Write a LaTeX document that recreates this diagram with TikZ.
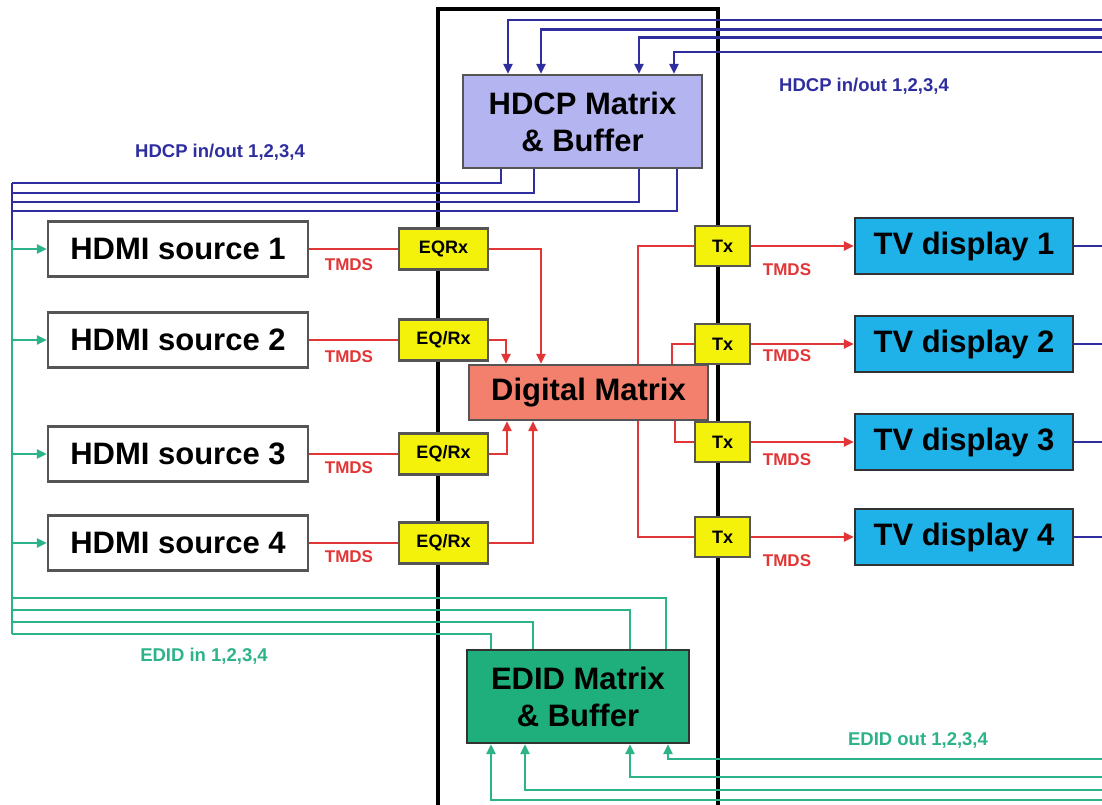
\documentclass[tikz,border=0pt]{standalone}
\usepackage{fontspec}
\setmainfont{Liberation Sans}
\usetikzlibrary{arrows.meta}
\definecolor{hdcpblue}{HTML}{2E2E9E}
\definecolor{edidgreen}{HTML}{2DB38A}
\definecolor{tmdsred}{HTML}{E23636}
\definecolor{lav}{HTML}{B4B4F0}
\definecolor{salmonfill}{HTML}{F2806C}
\definecolor{yel}{HTML}{F4F20A}
\definecolor{tvblue}{HTML}{1EB2E8}
\definecolor{edidfill}{HTML}{1EAF7C}
\definecolor{edge}{HTML}{555555}
\begin{document}
\begin{tikzpicture}[x=1pt,y=-1pt,
  bigbox/.style={line width=2.2pt, inner sep=0pt, align=center, text=black,
    font=\bfseries\fontsize{31}{37}\selectfont},
  srcbox/.style={bigbox, draw=edge, fill=white, minimum width=260pt, minimum height=55pt},
  tvbox/.style={bigbox, draw=black!80, fill=tvblue, minimum width=218pt, minimum height=56pt},
  hdcpbox/.style={bigbox, draw=edge, fill=lav, minimum width=239pt, minimum height=93pt},
  dmbox/.style={bigbox, draw=edge, fill=salmonfill, minimum width=239pt, minimum height=55pt},
  edidbox/.style={bigbox, draw=black!80, fill=edidfill, minimum width=222pt, minimum height=93pt},
  smallbox/.style={line width=2.2pt, inner sep=0pt, draw=edge, fill=yel, text=black,
    font=\bfseries\fontsize{18}{20}\selectfont},
  eqbox/.style={smallbox, minimum width=89pt, minimum height=41pt},
  txbox/.style={smallbox, minimum width=55pt, minimum height=40pt},
  arrowhd/.style={-{Triangle[length=10pt,width=9pt]}},
  tmds/.style={draw=tmdsred, line width=2.6pt},
  hdcpline/.style={draw=hdcpblue, line width=2.4pt},
  edidline/.style={draw=edidgreen, line width=2.8pt},
  framel/.style={draw=black, line width=3.5pt},
  tmdslbl/.style={text=tmdsred, font=\bfseries\fontsize{17}{19}\selectfont},
  hdcplbl/.style={text=hdcpblue, font=\bfseries\fontsize{18.5}{20}\selectfont},
  edidlbl/.style={text=edidgreen, font=\bfseries\fontsize{18.5}{20}\selectfont}]
\useasboundingbox[fill=white] (0,0) rectangle (1102,805);

% frame
\coordinate (f1) at (438,805);
\coordinate (f2) at (438,9);
\coordinate (f3) at (718,9);
\coordinate (f4) at (718,805);
\draw[framel] (f1) -- (f2) -- (f3) -- (f4);

% reference coordinates
\coordinate (rr) at (1102,0);
\coordinate (gl) at (12,0);

% nodes
\node[hdcpbox] (hdcp) at (582.5,121.5) {HDCP Matrix\\\& Buffer};
\node[dmbox] (dm) at (588.5,392.5) {Digital Matrix};
\node[edidbox] (edid) at (578,696.5) {EDID Matrix\\\& Buffer};

\node[srcbox] (src1) at (178,249) {HDMI source 1};
\node[srcbox] (src2) at (178,340) {HDMI source 2};
\node[srcbox] (src3) at (178,454) {HDMI source 3};
\node[srcbox] (src4) at (178,543) {HDMI source 4};

\node[eqbox] (eq1) at (443.5,249) {EQRx};
\node[eqbox] (eq2) at (443.5,340) {EQ/Rx};
\node[eqbox] (eq3) at (443.5,454) {EQ/Rx};
\node[eqbox] (eq4) at (443.5,543) {EQ/Rx};

\node[txbox] (tx1) at (722.5,246) {Tx};
\node[txbox] (tx2) at (722.5,344) {Tx};
\node[txbox] (tx3) at (722.5,442) {Tx};
\node[txbox] (tx4) at (722.5,537) {Tx};

\node[tvbox] (tv1) at (964,246) {TV display 1};
\node[tvbox] (tv2) at (964,344) {TV display 2};
\node[tvbox] (tv3) at (964,442) {TV display 3};
\node[tvbox] (tv4) at (964,537) {TV display 4};

% TMDS red
\draw[tmds] (src1.east) -- (eq1.west);
\draw[tmds] (src2.east) -- (eq2.west);
\draw[tmds] (src3.east) -- (eq3.west);
\draw[tmds] (src4.east) -- (eq4.west);
\draw[tmds,arrowhd] (eq1.east) -| ([xshift=-47.5pt]dm.north);
\draw[tmds,arrowhd] (eq2.east) -| ([xshift=-82.5pt]dm.north);
\draw[tmds,arrowhd] (eq3.east) -| ([xshift=-81.5pt]dm.south);
\draw[tmds,arrowhd] (eq4.east) -| ([xshift=-55.5pt]dm.south);
\draw[tmds] ([xshift=49.5pt]dm.north) |- (tx1.west);
\draw[tmds] ([xshift=83.5pt]dm.north) |- (tx2.west);
\draw[tmds] ([xshift=86.5pt]dm.south) |- (tx3.west);
\draw[tmds] ([xshift=49.5pt]dm.south) |- (tx4.west);
\draw[tmds,arrowhd] (tx1.east) -- (tv1.west);
\draw[tmds,arrowhd] (tx2.east) -- (tv2.west);
\draw[tmds,arrowhd] (tx3.east) -- (tv3.west);
\draw[tmds,arrowhd] (tx4.east) -- (tv4.west);

\node[tmdslbl] (tl1) at (349,265) {TMDS};
\node[tmdslbl] (tl2) at (349,357) {TMDS};
\node[tmdslbl] (tl3) at (349,468) {TMDS};
\node[tmdslbl] (tl4) at (349,557) {TMDS};
\node[tmdslbl] (tr1) at (787,270) {TMDS};
\node[tmdslbl] (tr2) at (787,356) {TMDS};
\node[tmdslbl] (tr3) at (787,460) {TMDS};
\node[tmdslbl] (tr4) at (787,561) {TMDS};

% HDCP blue: top inputs
\coordinate (bt1) at (1102,20);
\coordinate (bt2) at (1102,29.5);
\coordinate (bt3) at (1102,37.5);
\coordinate (bt4) at (1102,52);
\draw[hdcpline,arrowhd] (bt1) -| ([xshift=-74.5pt]hdcp.north);
\draw[hdcpline,arrowhd] (bt2) -| ([xshift=-41.5pt]hdcp.north);
\draw[hdcpline,arrowhd] (bt3) -| ([xshift=56.5pt]hdcp.north);
\draw[hdcpline,arrowhd] (bt4) -| ([xshift=91.5pt]hdcp.north);
% HDCP blue: bottom outputs to the left
\coordinate (bl1) at (12,183);
\coordinate (bl2) at (12,193);
\coordinate (bl3) at (12,202);
\coordinate (bl4) at (12,211);
\coordinate (blend) at (12,240);
\draw[hdcpline] ([xshift=-81.5pt]hdcp.south) |- (bl1);
\draw[hdcpline] ([xshift=-48.5pt]hdcp.south) |- (bl2);
\draw[hdcpline] ([xshift=56.5pt]hdcp.south) |- (bl3);
\draw[hdcpline] ([xshift=94.5pt]hdcp.south) |- (bl4);
\draw[hdcpline] (bl1) -- (blend);
% TV right side
\draw[hdcpline] (tv1.east) -- (tv1.east -| rr);
\draw[hdcpline] (tv2.east) -- (tv2.east -| rr);
\draw[hdcpline] (tv3.east) -- (tv3.east -| rr);
\draw[hdcpline] (tv4.east) -- (tv4.east -| rr);

\node[hdcplbl] (hl1) at (220,152) {HDCP in/out 1,2,3,4};
\node[hdcplbl] (hl2) at (864,86) {HDCP in/out 1,2,3,4};

% EDID green
\coordinate (el1) at (12,598);
\coordinate (el2) at (12,610);
\coordinate (el3) at (12,622);
\coordinate (el4) at (12,634);
\draw[edidline] (blend) -- (el4);
\draw[edidline,arrowhd] (src1.west -| gl) -- (src1.west);
\draw[edidline,arrowhd] (src2.west -| gl) -- (src2.west);
\draw[edidline,arrowhd] (src3.west -| gl) -- (src3.west);
\draw[edidline,arrowhd] (src4.west -| gl) -- (src4.west);
\draw[edidline] (el1) -| ([xshift=88pt]edid.north);
\draw[edidline] (el2) -| ([xshift=52pt]edid.north);
\draw[edidline] (el3) -| ([xshift=-45pt]edid.north);
\draw[edidline] (el4) -| ([xshift=-87pt]edid.north);

\coordinate (er1) at (1102,759);
\coordinate (er2) at (1102,777);
\coordinate (er3) at (1102,790);
\coordinate (er4) at (1102,800);
\draw[edidline,arrowhd] (er1) -| ([xshift=90pt]edid.south);
\draw[edidline,arrowhd] (er2) -| ([xshift=52pt]edid.south);
\draw[edidline,arrowhd] (er3) -| ([xshift=-53pt]edid.south);
\draw[edidline,arrowhd] (er4) -| ([xshift=-87pt]edid.south);

\node[edidlbl] (gl1) at (204,656) {EDID in 1,2,3,4};
\node[edidlbl] (gl2) at (918,740) {EDID out 1,2,3,4};
\end{tikzpicture}
\end{document}
